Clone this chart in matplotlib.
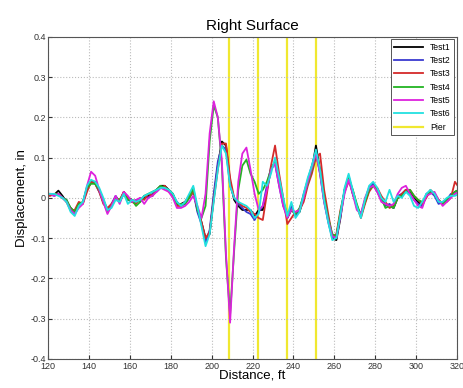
import matplotlib.pyplot as plt
import numpy as np

plt.rcParams['font.family'] = ['Liberation Sans', 'DejaVu Sans']

# distance, ft (shared by all tests)
distance = list(range(119, 322, 2))

test1 = [0.010, 0.010, 0.008, 0.018, 0.005, -0.010, -0.025, -0.035, -0.015, -0.012,
         0.020, 0.040, 0.040, 0.020, -0.005, -0.030, -0.020, 0.000, -0.010, 0.015,
         0.000, -0.005, -0.010, -0.005, 0.000, 0.005, 0.005, 0.020, 0.030, 0.030,
         0.020, 0.010, -0.015, -0.015, -0.010, 0.005, 0.020, -0.030, -0.060, -0.100,
         -0.090, 0.000, 0.080, 0.140, 0.130, 0.040, -0.005, -0.020, -0.030, -0.030,
         -0.030, -0.045, -0.030, -0.030, 0.020, 0.070, 0.090, 0.040, -0.010, -0.050,
         -0.030, -0.040, -0.035, 0.000, 0.040, 0.070, 0.130, 0.070, 0.000, -0.050,
         -0.100, -0.105, -0.050, 0.020, 0.050, 0.010, -0.020, -0.045, -0.010, 0.020,
         0.035, 0.020, 0.000, -0.015, -0.020, -0.025, 0.000, 0.005, 0.020, 0.015,
         0.000, -0.010, -0.020, 0.005, 0.015, 0.010, -0.010, -0.015, -0.005, 0.005,
         0.015, 0.020]

test2 = [0.008, 0.008, 0.005, 0.010, 0.000, -0.005, -0.030, -0.040, -0.020, -0.010,
         0.025, 0.040, 0.035, 0.015, -0.010, -0.030, -0.015, 0.005, -0.010, 0.010,
         -0.005, -0.010, -0.005, -0.010, 0.005, 0.000, 0.010, 0.015, 0.025, 0.025,
         0.020, 0.005, -0.010, -0.020, -0.015, 0.000, 0.015, -0.035, -0.065, -0.110,
         -0.080, 0.010, 0.090, 0.130, 0.120, 0.030, 0.000, -0.015, -0.025, -0.035,
         -0.040, -0.055, -0.035, -0.020, 0.030, 0.075, 0.085, 0.030, -0.020, -0.045,
         -0.020, -0.045, -0.030, 0.010, 0.045, 0.080, 0.115, 0.060, -0.010, -0.060,
         -0.100, -0.095, -0.040, 0.020, 0.055, 0.015, -0.025, -0.040, -0.005, 0.025,
         0.035, 0.015, -0.005, -0.020, -0.015, -0.025, 0.005, 0.010, 0.020, 0.010,
         -0.005, -0.015, -0.020, 0.010, 0.015, 0.005, -0.015, -0.010, -0.005, 0.010,
         0.010, 0.015]

test3 = [0.005, 0.005, 0.010, 0.010, 0.000, -0.010, -0.030, -0.030, -0.010, -0.015,
         0.015, 0.040, 0.035, 0.015, -0.015, -0.025, -0.015, 0.000, -0.005, 0.015,
         0.000, -0.010, -0.015, 0.000, -0.005, 0.010, 0.005, 0.020, 0.025, 0.030,
         0.015, 0.005, -0.020, -0.020, -0.010, 0.000, 0.015, -0.025, -0.060, -0.100,
         -0.085, -0.005, 0.070, 0.135, 0.135, 0.050, 0.000, -0.010, -0.020, -0.025,
         -0.035, -0.040, -0.050, -0.055, 0.010, 0.080, 0.130, 0.060, 0.000, -0.065,
         -0.050, -0.035, -0.030, -0.010, 0.030, 0.060, 0.100, 0.110, 0.020, -0.040,
         -0.095, -0.090, -0.030, 0.015, 0.040, 0.020, -0.020, -0.050, -0.015, 0.015,
         0.030, 0.025, 0.005, -0.010, -0.025, -0.020, 0.000, 0.010, 0.020, 0.020,
         0.005, -0.005, -0.015, 0.000, 0.020, 0.010, -0.005, -0.015, -0.010, 0.000,
         0.040, 0.025]

test4 = [0.010, 0.010, 0.008, 0.010, 0.000, -0.005, -0.025, -0.035, -0.015, -0.010,
         0.025, 0.035, 0.035, 0.020, -0.010, -0.035, -0.020, 0.000, -0.005, 0.010,
         -0.005, -0.005, -0.020, -0.010, 0.005, 0.010, 0.015, 0.020, 0.030, 0.025,
         0.020, 0.010, -0.015, -0.015, -0.015, 0.000, 0.025, -0.030, -0.050, -0.020,
         0.140, 0.230, 0.200, 0.080, -0.150, -0.290, -0.130, 0.020, 0.080, 0.095,
         0.060, 0.040, 0.010, 0.020, 0.040, 0.070, 0.090, 0.040, -0.010, -0.040,
         -0.030, -0.040, -0.025, 0.005, 0.035, 0.070, 0.110, 0.065, 0.000, -0.050,
         -0.090, -0.095, -0.035, 0.015, 0.050, 0.020, -0.015, -0.045, -0.010, 0.020,
         0.030, 0.020, 0.000, -0.025, -0.020, -0.025, 0.000, 0.005, 0.015, 0.020,
         0.005, -0.005, -0.010, 0.005, 0.015, 0.010, -0.005, -0.015, -0.005, 0.005,
         0.015, 0.020]

test5 = [0.010, 0.010, 0.005, 0.010, 0.000, -0.010, -0.030, -0.040, -0.025, -0.015,
         0.030, 0.065, 0.055, 0.020, -0.010, -0.040, -0.020, 0.005, -0.015, 0.015,
         0.005, -0.010, -0.005, 0.000, -0.015, 0.000, 0.005, 0.015, 0.025, 0.020,
         0.015, 0.000, -0.025, -0.025, -0.020, -0.010, 0.005, -0.020, -0.050, 0.010,
         0.160, 0.240, 0.200, 0.090, -0.140, -0.310, -0.120, 0.040, 0.110, 0.125,
         0.070, 0.010, -0.030, -0.020, 0.020, 0.070, 0.085, 0.030, -0.020, -0.050,
         -0.030, -0.035, -0.030, 0.000, 0.040, 0.075, 0.110, 0.060, -0.010, -0.055,
         -0.095, -0.100, -0.045, 0.010, 0.045, 0.010, -0.030, -0.040, 0.000, 0.025,
         0.030, 0.015, -0.010, -0.015, -0.020, -0.015, 0.010, 0.025, 0.030, 0.010,
         -0.005, -0.020, -0.025, 0.005, 0.010, 0.015, -0.005, -0.020, -0.010, 0.000,
         0.010, 0.015]

test6 = [0.008, 0.010, 0.010, 0.005, 0.000, -0.010, -0.035, -0.045, -0.020, -0.010,
         0.030, 0.045, 0.040, 0.025, 0.000, -0.030, -0.025, -0.005, -0.010, 0.010,
         -0.015, -0.005, -0.010, -0.005, 0.005, 0.010, 0.015, 0.020, 0.025, 0.025,
         0.020, 0.010, -0.010, -0.020, -0.010, 0.010, 0.030, -0.020, -0.070, -0.120,
         -0.090, -0.010, 0.070, 0.130, 0.110, 0.030, 0.000, -0.010, -0.015, -0.020,
         -0.030, -0.050, -0.040, 0.040, 0.030, 0.060, 0.100, 0.050, 0.000, -0.045,
         -0.010, -0.050, -0.035, 0.010, 0.050, 0.080, 0.120, 0.070, -0.005, -0.060,
         -0.105, -0.100, -0.040, 0.025, 0.060, 0.020, -0.020, -0.050, -0.005, 0.030,
         0.040, 0.025, 0.000, -0.010, 0.020, -0.010, 0.005, 0.000, 0.015, 0.005,
         -0.020, -0.025, -0.010, 0.010, 0.020, 0.010, -0.010, -0.010, 0.000, 0.005,
         0.005, 0.010]

piers = [208.7, 222.6, 236.9, 251.1]

series = {'Test1': test1, 'Test2': test2, 'Test3': test3,
          'Test4': test4, 'Test5': test5, 'Test6': test6}
colors = ['black', '#3a3ad0', '#d42a2a', '#22b422', '#dd22dd', '#22e0e0']

x_ticks = [120, 140, 160, 180, 200, 220, 240, 260, 280, 300, 320]
y_ticks = [-0.4, -0.3, -0.2, -0.1, 0, 0.1, 0.2, 0.3, 0.4]
y_tick_labels = ['-0.4', '-0.3', '-0.2', '-0.1', '0', '0.1', '0.2', '0.3', '0.4']

fig = plt.figure(figsize=(4.63, 3.88), dpi=100)
ax = fig.add_axes([0.104, 0.075, 0.883, 0.83])

for (name, vals), c in zip(series.items(), colors):
    ax.plot(distance, vals, color=c, lw=1.3, label=name)

for i, p in enumerate(piers):
    ax.axvline(p, color='#f0e830', lw=1.6, label='Pier' if i == 0 else None, zorder=1)

ax.set_xlim(120, 320)
ax.set_ylim(-0.4, 0.4)
ax.set_xticks(x_ticks)
ax.set_yticks(y_ticks)
ax.set_yticklabels(y_tick_labels)
ax.tick_params(direction='in', labelsize=6.5, length=3, colors='#333333', pad=1.5)
ax.tick_params(axis='x', pad=2.5)
ax.grid(True, ls=':', color='#bbbbbb', lw=0.8)
for s in ax.spines.values():
    s.set_color('#555555')
    s.set_linewidth(0.8)

ax.set_title('Right Surface', fontsize=11, pad=5)
ax.set_xlabel('Distance, ft', fontsize=9.5, labelpad=-1)
ax.set_ylabel('Displacement, in', fontsize=9.5, labelpad=2)

leg = ax.legend(loc='upper right', fontsize=6.2, handlelength=3.4, labelspacing=0.5,
                borderaxespad=0.3, fancybox=False, framealpha=1)
leg.get_frame().set_edgecolor('#555555')
leg.get_frame().set_linewidth(0.7)

fig.savefig('out.png', dpi=100)
